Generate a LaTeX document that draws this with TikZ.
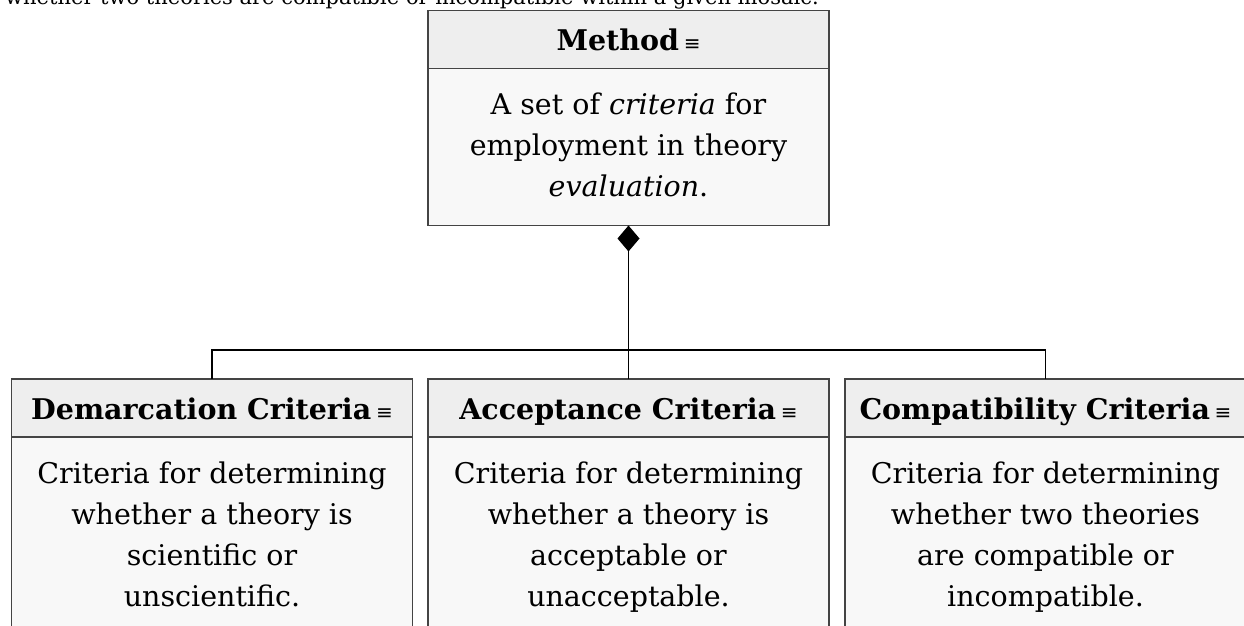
\documentclass[tikz,border=0pt]{standalone}
\usepackage{fontspec}
\setmainfont{DejaVu Serif}
\newfontfamily\symfont{DejaVu Sans}
\usetikzlibrary{arrows.meta, positioning}
\definecolor{hdrgray}{RGB}{238,238,238}
\definecolor{bodygray}{RGB}{248,248,248}
\definecolor{edge}{RGB}{68,68,68}
\newcommand{\eqv}{\,{\symfont\mdseries\fontsize{20}{20}\selectfont ≡}}

\begin{document}
\begin{tikzpicture}[
  x=1pt, y=-1pt,
  hdr/.style={draw=edge, line width=1.8pt, fill=hdrgray, minimum width=401pt, minimum height=58pt, inner sep=0pt, outer sep=0pt, text height=28pt, text depth=6pt, font=\fontsize{28.5}{32}\selectfont\bfseries},
  body/.style={draw=edge, line width=1.8pt, fill=bodygray, minimum width=401pt, inner sep=0pt, outer sep=0pt, align=center, font=\fontsize{28.5}{41}\selectfont},
  link/.style={line width=1.3pt, black},
  comp/.style={{Diamond[length=26pt, width=22pt]}-, link},
  cut/.style={font=\fontsize{21}{24}\selectfont, anchor=base west, inner sep=0pt}
]
\useasboundingbox (0,0) rectangle (1244,626);
\clip (0,0) rectangle (1244,626);

% --- cut-off caption line above ---
\node[cut] (caption) at (5,5) {whether two theories are compatible or incompatible within a given mosaic.};

% --- Method class ---
\node[hdr] (method) at (628.5,39.5) {Method\eqv};
\node[body, minimum height=157pt, below=0pt of method] (methodtxt) {\strut A set of \textit{criteria} for\\employment in theory\\\textit{evaluation}.\strut};

% --- Criteria classes ---
\node[hdr] (demarc) at (212,408) {Demarcation Criteria\eqv};
\node[body, minimum height=200pt, below=0pt of demarc] (demarctxt) {\strut Criteria for determining\\whether a theory is\\scientific or\\unscientific.\strut};
\node[hdr] (accept) at (628.5,408) {Acceptance Criteria\eqv};
\node[body, minimum height=200pt, below=0pt of accept] (accepttxt) {\strut Criteria for determining\\whether a theory is\\acceptable or\\unacceptable.\strut};
\node[hdr] (compat) at (1045.5,408) {Compatibility Criteria\eqv};
\node[body, minimum height=200pt, below=0pt of compat] (compattxt) {\strut Criteria for determining\\whether two theories\\are compatible or\\incompatible.\strut};

% --- Composition ---
\coordinate (split) at (628.5,350);
\draw[comp] (methodtxt.south) -- (split);
\draw[link] (split) -| (demarc.north);
\draw[link] (split) -- (accept.north);
\draw[link] (split) -| (compat.north);

\end{tikzpicture}
\end{document}
